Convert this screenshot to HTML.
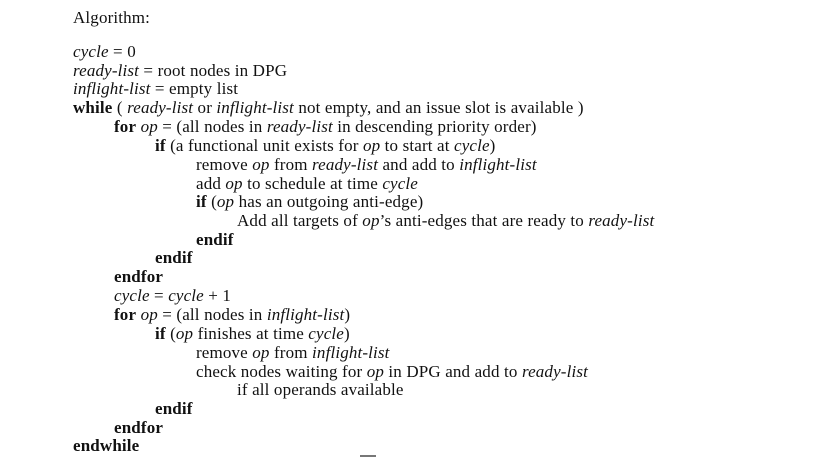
<!DOCTYPE html>
<html><head><meta charset="utf-8"><style>
body{margin:0;width:816px;height:457px;background:#fff;overflow:hidden;position:relative;font-family:"Liberation Serif",serif;font-size:17px;letter-spacing:0.15px;color:#111;}
.l{position:absolute;white-space:nowrap;line-height:15px;}
i{font-style:italic}
b{font-weight:bold}
</style></head><body>
<div class="l" style="left:73px;top:10px">Algorithm:</div>
<div class="l" style="left:73px;top:44px"><i>cycle</i> = 0</div>
<div class="l" style="left:73px;top:63px"><i>ready-list</i> = root nodes in DPG</div>
<div class="l" style="left:73px;top:81px"><i>inflight-list</i> = empty list</div>
<div class="l" style="left:73px;top:100px"><b>while</b> ( <i>ready-list</i> or <i>inflight-list</i> not empty, and an issue slot is available )</div>
<div class="l" style="left:114px;top:119px"><b>for</b> <i>op</i> = (all nodes in <i>ready-list</i> in descending priority order)</div>
<div class="l" style="left:155px;top:138px"><b>if</b> (a functional unit exists for <i>op</i> to start at <i>cycle</i>)</div>
<div class="l" style="left:196px;top:157px">remove <i>op</i> from <i>ready-list</i> and add to <i>inflight-list</i></div>
<div class="l" style="left:196px;top:176px">add <i>op</i> to schedule at time <i>cycle</i></div>
<div class="l" style="left:196px;top:194px"><b>if</b> (<i>op</i> has an outgoing anti-edge)</div>
<div class="l" style="left:237px;top:213px">Add all targets of <i>op</i>’s anti-edges that are ready to <i>ready-list</i></div>
<div class="l" style="left:196px;top:232px"><b>endif</b></div>
<div class="l" style="left:155px;top:250px"><b>endif</b></div>
<div class="l" style="left:114px;top:269px"><b>endfor</b></div>
<div class="l" style="left:114px;top:288px"><i>cycle</i> = <i>cycle</i> + 1</div>
<div class="l" style="left:114px;top:307px"><b>for</b> <i>op</i> = (all nodes in <i>inflight-list</i>)</div>
<div class="l" style="left:155px;top:326px"><b>if</b> (<i>op</i> finishes at time <i>cycle</i>)</div>
<div class="l" style="left:196px;top:345px">remove <i>op</i> from <i>inflight-list</i></div>
<div class="l" style="left:196px;top:364px">check nodes waiting for <i>op</i> in DPG and add to <i>ready-list</i></div>
<div class="l" style="left:237px;top:382px">if all operands available</div>
<div class="l" style="left:155px;top:401px"><b>endif</b></div>
<div class="l" style="left:114px;top:420px;height:13px;overflow:hidden"><b>endfor</b></div>
<div class="l" style="left:73px;top:438px"><b>endwhile</b></div>
<div style="position:absolute;left:360px;top:455px;width:16px;height:2px;background:#777"></div>
</body></html>
